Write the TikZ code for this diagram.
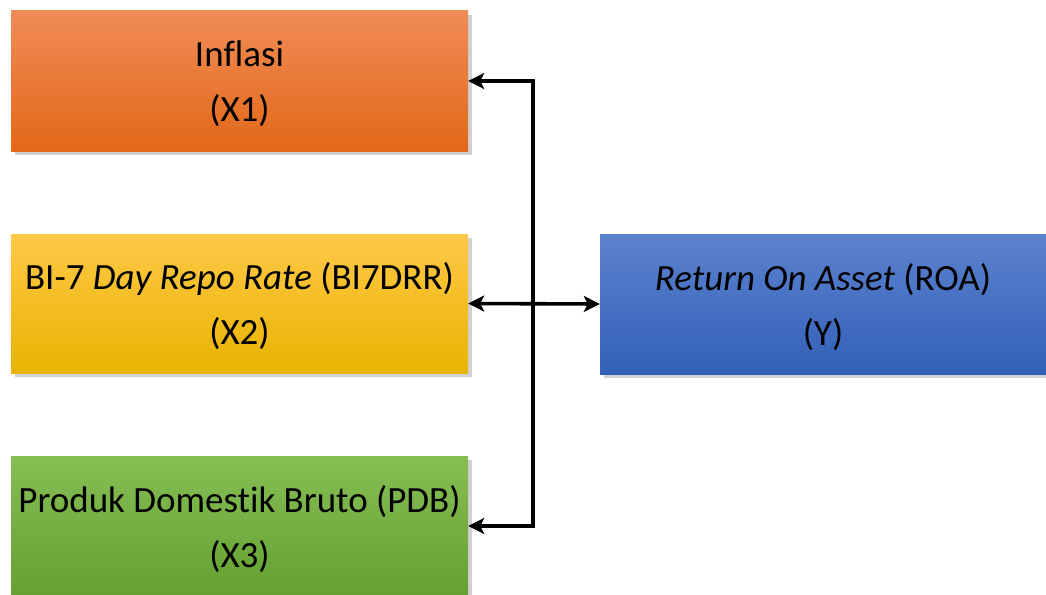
\documentclass[tikz,border=0pt]{standalone}
\usepackage{fontspec}
\setmainfont{Carlito}[Ligatures={NoCommon}]
\usetikzlibrary{arrows.meta,shadows,calc}
\definecolor{orT}{RGB}{240,140,86}
\definecolor{orM}{RGB}{242,120,38}
\definecolor{orB}{RGB}{226,104,24}
\definecolor{yeT}{RGB}{255,200,72}
\definecolor{yeM}{RGB}{255,192,10}
\definecolor{yeB}{RGB}{232,180,0}
\definecolor{grT}{RGB}{134,190,84}
\definecolor{grM}{RGB}{114,176,62}
\definecolor{grB}{RGB}{100,160,50}
\definecolor{blT}{RGB}{92,130,206}
\definecolor{blM}{RGB}{66,112,200}
\definecolor{blB}{RGB}{50,96,184}
\tikzset{
  varbox/.style={rectangle, draw=none, inner sep=0pt,
    drop shadow={shadow xshift=4pt, shadow yshift=-4pt, opacity=0.3, fill=black!60}},
  boxtext/.style={align=center, text=black, inner sep=0pt, yshift=-3pt,
    font=\fontsize{37}{55}\selectfont},
  conn/.style={line width=3.6pt, black, line join=miter,
    {Stealth[length=16pt,width=16pt,inset=4pt]}-{Stealth[length=16pt,width=16pt,inset=4pt]}}
}
\begin{document}
\begin{tikzpicture}[x=1pt,y=-1pt]
\useasboundingbox (0,0) rectangle (1046,594);
\node[varbox, minimum width=457pt, minimum height=140pt, top color=orT, middle color=orM, bottom color=orB,
  label={[boxtext]center:Inflasi\\(X1)}] (a) at (239.5,81) {};
\node[varbox, minimum width=457pt, minimum height=139pt, top color=yeT, middle color=yeM, bottom color=yeB,
  label={[boxtext]center:BI-7 \textit{Day Repo Rate} (BI7DRR)\\(X2)}] (b) at (239.5,303.5) {};
\node[varbox, minimum width=457pt, minimum height=140pt, top color=grT, middle color=grM, bottom color=grB,
  label={[boxtext]center:Produk Domestik Bruto (PDB)\\(X3)}] (c) at (239.5,526) {};
\node[varbox, minimum width=446pt, minimum height=140pt, top color=blT, middle color=blM, bottom color=blB,
  label={[boxtext]center:\textit{Return On Asset} (ROA)\\(Y)}] (y) at (823,304) {};
\coordinate (sp) at (533,0);
\draw[conn] (a.east) -| (sp |- c.east) -- (c.east);
\draw[conn] (b.east) -- (y.west);
\end{tikzpicture}
\end{document}
